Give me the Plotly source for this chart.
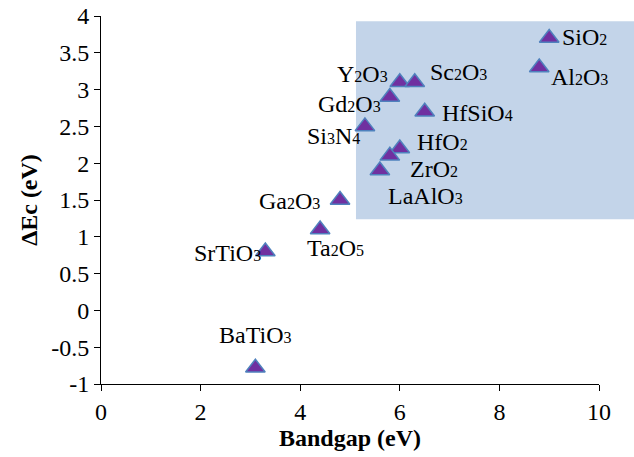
import plotly.graph_objects as go

# ---- data ----
materials = ["SiO2", "Al2O3", "Y2O3", "Sc2O3", "Gd2O3", "HfSiO4", "Si3N4",
             "HfO2", "ZrO2", "LaAlO3", "Ga2O3", "Ta2O5", "SrTiO3", "BaTiO3"]
bandgap = [9.0, 8.8, 6.0, 6.3, 5.8, 6.5, 5.3, 6.0, 5.8, 5.6, 4.8, 4.4, 3.3, 3.1]
delta_ec = [3.7, 3.3, 3.1, 3.1, 2.9, 2.7, 2.5, 2.2, 2.1, 1.9, 1.5, 1.1, 0.8, -0.78]

x_ticks = [0, 2, 4, 6, 8, 10]
y_ticks = [-1, -0.5, 0, 0.5, 1, 1.5, 2, 2.5, 3, 3.5, 4]
y_ticktext = ["-1", "-0.5", "0", "0.5", "1", "1.5", "2", "2.5", "3", "3.5", "4"]

# label placement: (xanchor, xshift px, yshift px)
label_pos = {
    "SiO2": ("left", 12, 1),
    "Al2O3": ("left", 11, -9),
    "Y2O3": ("right", -11, 8),
    "Sc2O3": ("left", 14, 10),
    "Gd2O3": ("right", -8, -7),
    "HfSiO4": ("left", 16, -1),
    "Si3N4": ("right", -4, -10),
    "HfO2": ("left", 16, 6),
    "ZrO2": ("left", 19, -13.5),
    "LaAlO3": ("left", 7, -25),
    "Ga2O3": ("right", -19, -1),
    "Ta2O5": ("left", -14, -19),
    "SrTiO3": ("right", -3, -1),
    "BaTiO3": ("center", 0, 33),
}

FONT = "Liberation Serif"


def formula(name):
    out = ""
    for ch in name:
        if ch.isdigit():
            out += "<span style='font-size:16px'>" + ch + "</span>"
        else:
            out += ch
    return out


fig = go.Figure()
fig.add_trace(go.Scatter(
    x=bandgap, y=delta_ec, mode="markers",
    marker=dict(symbol="triangle-up", size=17, color="#7030A0",
                line=dict(color="#4F81BD", width=1.5)),
    showlegend=False, cliponaxis=False,
))

annotations = []
for name, xv, yv in zip(materials, bandgap, delta_ec):
    anc, xs, ys = label_pos[name]
    annotations.append(dict(
        x=xv, y=yv, xref="x", yref="y", text=formula(name), showarrow=False,
        xanchor=anc, yanchor="middle", xshift=xs, yshift=ys, borderpad=0,
        font=dict(family=FONT, size=24, color="black"),
    ))

fig.add_shape(type="rect", xref="paper", yref="paper",
              x0=0.512, x1=1.08, y0=0.448, y1=0.986,
              fillcolor="#C3D4E9", line=dict(width=0), layer="below")

fig.update_layout(
    width=634, height=457,
    margin=dict(l=101, r=35, t=16, b=73, autoexpand=False),
    paper_bgcolor="white", plot_bgcolor="rgba(0,0,0,0)",
    font=dict(family=FONT, size=24, color="black"),
    annotations=annotations,
    xaxis=dict(range=[0, 10], tickvals=x_ticks, showgrid=False, zeroline=False,
               showline=True, linecolor="black", linewidth=1, automargin=False,
               ticks="outside", ticklen=6, tickcolor="black",
               tickfont=dict(family=FONT, size=24),
               title=dict(text="<b>Bandgap (eV)</b>", font=dict(family=FONT, size=24), standoff=5)),
    yaxis=dict(range=[-1, 4], tickvals=y_ticks, ticktext=y_ticktext, showgrid=False,
               zeroline=False, showline=True, linecolor="black", linewidth=1, automargin=False,
               ticks="outside", ticklen=6, tickcolor="black",
               tickfont=dict(family=FONT, size=24),
               title=dict(text="<b>ΔEc (eV)</b>", font=dict(family=FONT, size=24), standoff=6)),
)

fig.write_html("out.html")
